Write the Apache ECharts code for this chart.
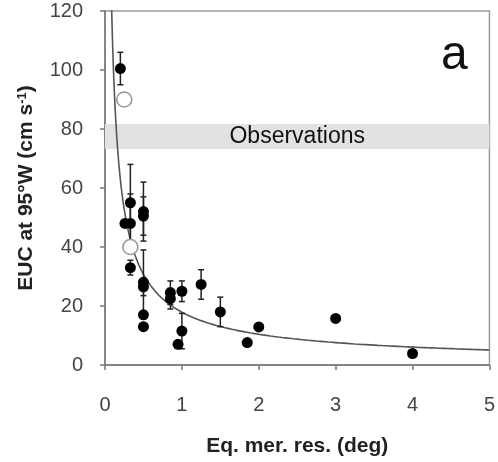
<!DOCTYPE html>
<html>
<head>
<meta charset="utf-8">
<script src="https://cdn.jsdelivr.net/npm/echarts@6/dist/echarts.min.js"></script>
<style>
  html, body { margin: 0; padding: 0; background: #fff; }
  #chart { width: 498px; height: 462px; }
</style>
</head>
<body>
<div id="chart"></div>
<script>
// Model resolution (deg) vs EUC strength at 95°W (cm/s)
const resX   = [0.2, 0.26, 0.33, 0.33, 0.33, 0.5, 0.5, 0.5, 0.5, 0.5, 0.5, 0.85, 0.85, 0.95, 1.0, 1.0, 1.25, 1.5, 1.85, 2.0, 3.0, 4.0];
const eucY   = [100.5, 48, 55, 48, 33, 52, 50.5, 28, 26.5, 17, 13, 24.5, 22.5, 7, 25, 11.5, 27.3, 18, 7.6, 12.9, 15.8, 3.9];
const eucErr = [5.5, 0, 13, 10, 2.5, 10, 6.5, 11, 3, 0, 0, 4, 3.5, 0, 3.5, 6, 5, 5, 0, 0, 0, 0];

// Hollow markers
const openX = [0.25, 0.33];
const openY = [90, 40];

// Observed range
const obsRange = [73.2, 81.7];
const obsLabel = 'Observations';

// Power-law fit y = c * x^p
const fitCoef = 17.9;
const fitExp = -0.78;

const xTicks = [0, 1, 2, 3, 4, 5];
const yTicks = [0, 20, 40, 60, 80, 100, 120];

const fitLine = [];
for (let x = 0.08; x <= 5.0001; x += (x < 0.5 ? 0.005 : 0.05)) {
  fitLine.push([x, fitCoef * Math.pow(x, fitExp)]);
}

const points = resX.map((x, i) => [x, eucY[i]]);
const bars = resX.map((x, i) => [x, eucY[i], eucErr[i]]).filter(d => d[2] > 0);
const hollow = openX.map((x, i) => [x, openY[i]]);

const chart = echarts.init(document.getElementById('chart'));
const FONT = '"Liberation Sans", Arial, sans-serif';

chart.setOption({
  animation: false,
  backgroundColor: '#fff',
  grid: { left: 105, right: 8, top: 11, bottom: 96, show: true, borderColor: '#999', borderWidth: 1.5 },
  xAxis: {
    type: 'value', min: 0, max: 5, interval: 1,
    name: 'Eq. mer. res. (deg)', nameLocation: 'middle', nameGap: 71,
    nameTextStyle: { fontFamily: FONT, fontSize: 21, fontWeight: 'bold', color: '#222' },
    axisLine: { lineStyle: { color: '#777', width: 1.5 } },
    axisTick: { show: true, length: 5, lineStyle: { color: '#777', width: 1.5 } },
    axisLabel: { fontFamily: FONT, fontSize: 20, color: '#444', margin: 30,
      formatter: v => xTicks.includes(v) ? String(v) : '' },
    splitLine: { show: false }
  },
  yAxis: {
    type: 'value', min: 0, max: 120, interval: 20,
    name: 'EUC at 95°W (cm s{sup|-1})', nameLocation: 'middle', nameGap: 68,
    nameTextStyle: { fontFamily: FONT, fontSize: 21, fontWeight: 'bold', color: '#222',
      rich: { sup: { fontFamily: FONT, fontSize: 13, fontWeight: 'bold', color: '#222', verticalAlign: 'top', padding: [0, 0, 8, 0] } } },
    axisLine: { show: true, lineStyle: { color: '#777', width: 1.5 } },
    axisTick: { show: true, length: 5, lineStyle: { color: '#777', width: 1.5 } },
    axisLabel: { fontFamily: FONT, fontSize: 20, color: '#444', margin: 22,
      formatter: v => yTicks.includes(v) ? String(v) : '' },
    splitLine: { show: false }
  },
  graphic: [{
    type: 'text', left: 441, top: 32, z: 100,
    style: { text: 'a', font: '48px "Liberation Sans", Arial, sans-serif', fill: '#111' }
  }],
  series: [
    {
      type: 'line', data: fitLine, showSymbol: false, clip: true, smooth: false,
      lineStyle: { color: '#555', width: 1.6 }, z: 3,
      markArea: {
        silent: true,
        itemStyle: { color: '#e2e2e2' },
        label: { show: true, position: 'inside', color: '#111', fontFamily: FONT, fontSize: 23 },
        data: [[{ xAxis: 0, yAxis: obsRange[0], name: obsLabel }, { xAxis: 5, yAxis: obsRange[1] }]]
      }
    },
    {
      type: 'custom', z: 4,
      renderItem: (params, api) => {
        const x = api.value(0), y = api.value(1), e = api.value(2);
        const top = api.coord([x, y + e]);
        const bot = api.coord([x, y - e]);
        const hw = 3;
        const st = { stroke: '#222', lineWidth: 1.5 };
        return {
          type: 'group',
          children: [
            { type: 'line', shape: { x1: top[0], y1: top[1], x2: bot[0], y2: bot[1] }, style: st },
            { type: 'line', shape: { x1: top[0] - hw, y1: top[1], x2: top[0] + hw, y2: top[1] }, style: st },
            { type: 'line', shape: { x1: bot[0] - hw, y1: bot[1], x2: bot[0] + hw, y2: bot[1] }, style: st }
          ]
        };
      },
      data: bars
    },
    {
      type: 'scatter', data: points, symbol: 'circle', symbolSize: 11, z: 5,
      itemStyle: { color: '#000', opacity: 1 }
    },
    {
      type: 'scatter', data: hollow, symbol: 'circle', symbolSize: 15, z: 6,
      itemStyle: { color: '#fff', borderColor: '#999', borderWidth: 1.6, opacity: 1 }
    }
  ]
});
</script>
</body>
</html>
